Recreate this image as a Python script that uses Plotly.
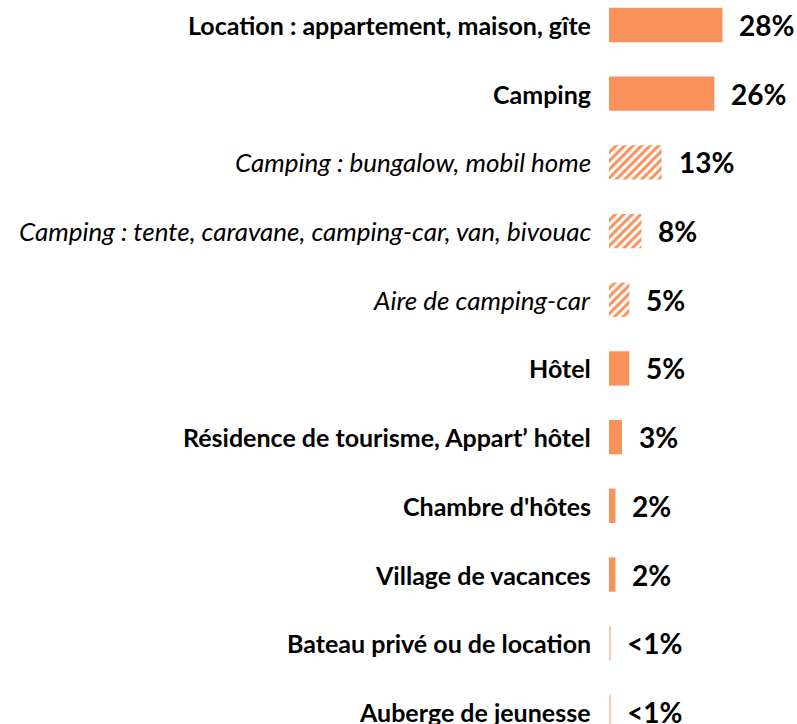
import plotly.graph_objects as go

categories = [
    "Location : appartement, maison, gîte",
    "Camping",
    "Camping : bungalow, mobil home",
    "Camping : tente, caravane, camping-car, van, bivouac",
    "Aire de camping-car",
    "Hôtel",
    "Résidence de tourisme, Appart\u2019 hôtel",
    "Chambre d'hôtes",
    "Village de vacances",
    "Bateau privé ou de location",
    "Auberge de jeunesse",
]
values = [28, 26, 13, 8, 5, 5, 3.2, 1.6, 1.6, 0.25, 0.25]
value_labels = ["28%", "26%", "13%", "8%", "5%", "5%", "3%", "2%", "2%", "<1%", "<1%"]
is_sub = [False, False, True, True, True, False, False, False, False, False, False]

ORANGE = "#F8915A"
PALE = "#F7CDB5"
positions = list(range(len(categories)))

fig = go.Figure()
solid_idx = [i for i, s in enumerate(is_sub) if not s]
sub_idx = [i for i, s in enumerate(is_sub) if s]

fig.add_trace(go.Bar(
    x=[values[i] for i in solid_idx],
    y=[positions[i] for i in solid_idx],
    orientation="h",
    width=0.5,
    marker=dict(color=[ORANGE if values[i] >= 1 else PALE for i in solid_idx],
                line=dict(width=0)),
    hoverinfo="skip",
))
fig.add_trace(go.Bar(
    x=[values[i] for i in sub_idx],
    y=[positions[i] for i in sub_idx],
    orientation="h",
    width=0.5,
    marker=dict(color="white", line=dict(width=0),
                pattern=dict(shape="/", fgcolor=ORANGE, bgcolor="white",
                             size=6, solidity=0.5, fgopacity=1)),
    hoverinfo="skip",
))

for i in positions:
    # value label
    fig.add_annotation(
        x=values[i], y=positions[i], text=f"<b>{value_labels[i]}</b>",
        xanchor="left", yanchor="middle", xshift=15, showarrow=False,
        font=dict(family="Lato", size=28, color="black"),
    )
    # category label
    if is_sub[i]:
        txt, size = f"<i>{categories[i]}</i>", 26
    else:
        txt, size = f"<b>{categories[i]}</b>", 25
    fig.add_annotation(
        x=0, y=positions[i], text=txt,
        xanchor="right", yanchor="middle", xshift=-16, showarrow=False,
        font=dict(family="Lato", size=size, color="black"),
    )

fig.update_layout(
    width=797, height=724,
    margin=dict(l=609, r=0, t=0, b=0),
    paper_bgcolor="white", plot_bgcolor="white",
    showlegend=False, barmode="overlay",
    xaxis=dict(range=[0, 46.4], visible=False, fixedrange=True),
    yaxis=dict(
        range=[10.176, -0.364], visible=False, automargin=False,
        fixedrange=True,
    ),
)

fig.write_html("out.html", config={"displayModeBar": False},
               post_script="document.body.style.margin='0';")
